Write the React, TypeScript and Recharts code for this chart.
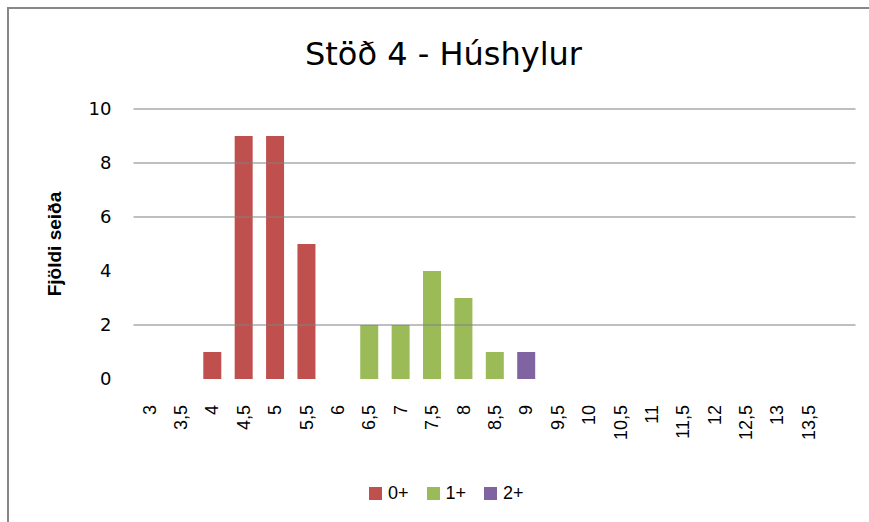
import React from "react";
import { BarChart, Bar, XAxis, YAxis, ReferenceLine, Legend } from "recharts";

const categories = ["3", "3,5", "4", "4,5", "5", "5,5", "6", "6,5", "7", "7,5", "8", "8,5", "9", "9,5", "10", "10,5", "11", "11,5", "12", "12,5", "13", "13,5", ""];
const age0 = [0, 0, 1, 9, 9, 5, 0, 0, 0, 0, 0, 0, 0, 0, 0, 0, 0, 0, 0, 0, 0, 0, 0];
const age1 = [0, 0, 0, 0, 0, 0, 0, 2, 2, 4, 3, 1, 0, 0, 0, 0, 0, 0, 0, 0, 0, 0, 0];
const age2 = [0, 0, 0, 0, 0, 0, 0, 0, 0, 0, 0, 0, 1, 0, 0, 0, 0, 0, 0, 0, 0, 0, 0];
const seriesNames = ["0+", "1+", "2+"];
const seriesColors = ["#C0504D", "#9BBB59", "#8064A2"];
const yTicks = [0, 2, 4, 6, 8, 10];
const gridValues = [2, 6, 8, 10];
const title = "Stöð 4 - Húshylur";
const yLabel = "Fjöldi seiða";

const data = categories.map((c, i) => ({ cat: c, s0: age0[i], s1: age1[i], s2: age2[i] }));

const XTick = (props: any) => {
  const { x, y, payload } = props;
  return (
    <text
      x={x}
      y={y}
      transform={`rotate(-90, ${x}, ${y})`}
      textAnchor="end"
      dy="0.36em"
      fontFamily="Liberation Sans"
      fontSize={18}
      fill="#000"
    >
      {payload.value}
    </text>
  );
};

const LegendContent = (props: any) => {
  const payload = props.payload || [];
  return (
    <div style={{ display: "flex", paddingLeft: 369 }}>
      {payload.map((p: any, i: number) => (
        <div key={i} style={{ display: "flex", alignItems: "center", marginRight: 18 }}>
          <div style={{ width: 13, height: 13, background: p.color, marginRight: 6 }} />
          <span style={{ fontFamily: "Liberation Sans", fontSize: 18, color: "#000", lineHeight: "20px" }}>{p.value}</span>
        </div>
      ))}
    </div>
  );
};

export default function App() {
  return (
    <div style={{ position: "fixed", left: 0, top: 0, width: 869, height: 522, overflow: "hidden", background: "#fff" }}>
      <div
        style={{
          position: "absolute",
          left: 7,
          top: 7,
          width: 900,
          height: 600,
          borderTop: "2px solid #878787",
          borderLeft: "2px solid #878787",
        }}
      />
      <div style={{ position: "absolute", left: 0, top: 0 }}>
        <BarChart width={869} height={522} data={data} margin={{ top: 109, right: 13.5, left: 73.5, bottom: 43 }}>
          {gridValues.map((v) => (
            <ReferenceLine key={v} y={v} stroke="#808080" strokeWidth={1.2} ifOverflow="extendDomain" />
          ))}
          <XAxis
            dataKey="cat"
            interval={0}
            height={100}
            axisLine={false}
            tickLine={false}
            tickSize={0}
            tickMargin={26}
            tick={<XTick />}
          />
          <YAxis
            domain={[0, 10]}
            ticks={yTicks}
            width={60}
            axisLine={false}
            tickLine={false}
            tickSize={0}
            tickMargin={22}
            tick={{ fontFamily: "DejaVu Sans", fontSize: 18, fill: "#000" }}
          />
          <Legend
            verticalAlign="middle"
            layout="horizontal"
            wrapperStyle={{ top: 483, left: 0, width: 869 }}
            content={<LegendContent />}
          />
          <Bar dataKey="s0" name={seriesNames[0]} stackId="a" fill={seriesColors[0]} barSize={18} isAnimationActive={false} />
          <Bar dataKey="s1" name={seriesNames[1]} stackId="a" fill={seriesColors[1]} barSize={18} isAnimationActive={false} />
          <Bar dataKey="s2" name={seriesNames[2]} stackId="a" fill={seriesColors[2]} barSize={18} isAnimationActive={false} />
        </BarChart>
      </div>
      <svg width={869} height={522} style={{ position: "absolute", left: 0, top: 0, pointerEvents: "none" }}>
        <text x={443.5} y={65} textAnchor="middle" fontFamily="DejaVu Sans" fontSize={32} fill="#000">
          {title}
        </text>
        <text
          transform="translate(61, 244) rotate(-90)"
          textAnchor="middle"
          fontFamily="Liberation Sans"
          fontWeight="bold"
          fontSize={19}
          fill="#000"
        >
          {yLabel}
        </text>
      </svg>
    </div>
  );
}
